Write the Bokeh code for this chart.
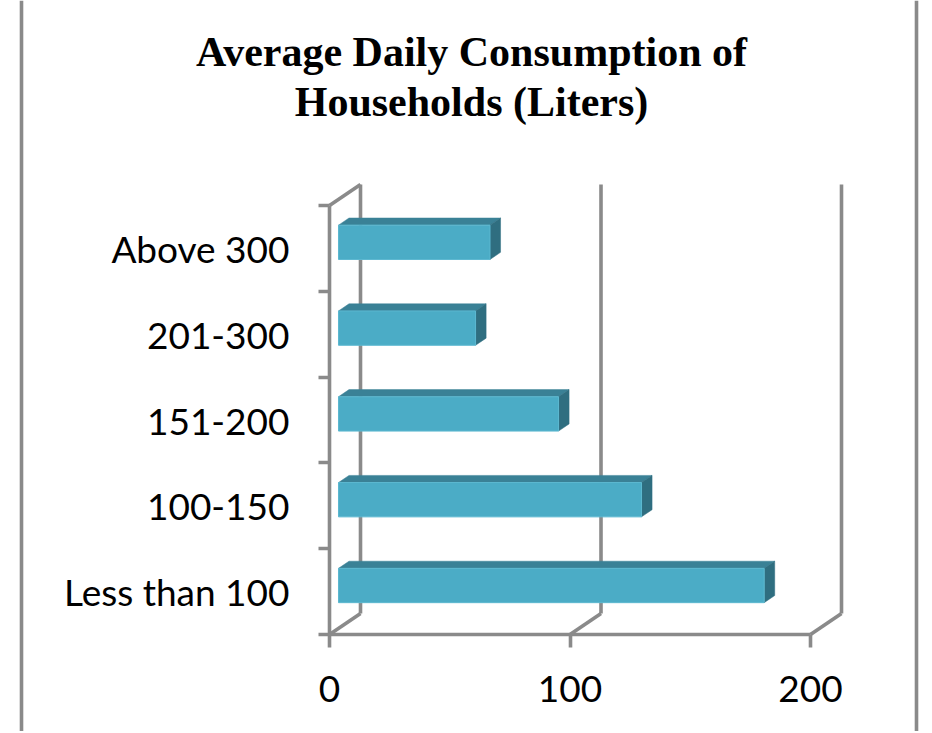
from bokeh.plotting import figure
from bokeh.models import Range1d, LinearAxis, FixedTicker, Label, Span
from bokeh.embed import file_html
from bokeh.resources import INLINE

# ---- data ----
categories = ["Less than 100", "100-150", "151-200", "201-300", "Above 300"]
values = [177, 126, 91.5, 57, 63]
x_ticks = [0, 100, 200]
title_lines = ["Average Daily Consumption of", "Households (Liters)"]

# ---- geometry (page pixels -> data units) ----
W, H = 930, 731
PAGE_OFF = 0
X0_PAGE, PX_PER_VAL = 329, 2.405      # value 0 at front, px per unit value
YF_PAGE, PX_PER_CAT = 634, 85.8       # front floor, px per category band

def xv(page_x):
    return (page_x - X0_PAGE) / PX_PER_VAL

def yv(page_y):
    return 0.5 + (YF_PAGE - page_y) / PX_PER_CAT

DX = 31 / PX_PER_VAL      # full depth offset in value units
DY = 21 / PX_PER_CAT      # full depth offset in category units
A, B = 0.29, 0.63         # bar depth fractions
HALF = 0.2                # half bar height (category units)

GRAY = "#8a8a8a"
LW = 3.6
FRONT = "#4bacc6"
TOP = "#3a8196"
SIDE = "#2f6e80"

p = figure(width=W, height=H, output_backend="svg", toolbar_location=None,
           x_range=Range1d(xv(PAGE_OFF), xv(PAGE_OFF + W)),
           y_range=Range1d(yv(PAGE_OFF + H), yv(PAGE_OFF)),
           x_axis_location=None, y_axis_location=None, min_border=0)
p.outline_line_color = None
p.background_fill_color = "white"
p.border_fill_color = "white"
p.grid.visible = False

n = len(categories)
xmax = x_ticks[-1]

# chart border lines
for px in (21, 916):
    p.add_layout(Span(location=xv(px), dimension="height",
                      line_color=GRAY, line_width=LW))

# back wall gridlines
p.segment(x0=[t + DX for t in x_ticks], y0=[0.5 + DY] * len(x_ticks),
          x1=[t + DX for t in x_ticks], y1=[n + 0.5 + DY] * len(x_ticks),
          line_color=GRAY, line_width=LW)
# floor diagonals
p.segment(x0=x_ticks, y0=[0.5] * len(x_ticks),
          x1=[t + DX for t in x_ticks], y1=[0.5 + DY] * len(x_ticks),
          line_color=GRAY, line_width=LW)
# left wall top diagonal
p.segment(x0=[0], y0=[n + 0.5], x1=[DX], y1=[n + 0.5 + DY],
          line_color=GRAY, line_width=LW)

# bars
centers = [i + 1 for i in range(n)]
left = [A * DX] * n
right = [v + A * DX for v in values]
bottom = [c - HALF + A * DY for c in centers]
top = [c + HALF + A * DY for c in centers]
ddx, ddy = (B - A) * DX, (B - A) * DY

top_xs = [[l, r, r + ddx, l + ddx] for l, r in zip(left, right)]
top_ys = [[t, t, t + ddy, t + ddy] for t in top]
side_xs = [[r, r, r + ddx, r + ddx] for r in right]
side_ys = [[b, t, t + ddy, b + ddy] for b, t in zip(bottom, top)]

p.patches(xs=top_xs, ys=top_ys, fill_color=TOP, line_color=TOP, line_width=0.5)
p.patches(xs=side_xs, ys=side_ys, fill_color=SIDE, line_color=SIDE, line_width=0.5)
p.quad(left=left, right=right, bottom=bottom, top=top,
       fill_color=FRONT, line_color="#5cb8d0", line_width=1)

# axes
FONT = "Lato"
xaxis = LinearAxis(fixed_location=0.5, bounds=(0, xmax),
                   ticker=FixedTicker(ticks=x_ticks, minor_ticks=[]))
xaxis.axis_line_color = GRAY
xaxis.axis_line_width = LW
xaxis.major_tick_line_color = GRAY
xaxis.major_tick_line_width = LW
xaxis.major_tick_out = 13
xaxis.major_tick_in = 0
xaxis.minor_tick_line_color = None
xaxis.major_label_text_font = FONT
xaxis.major_label_text_font_size = "37px"
xaxis.major_label_text_color = "black"
xaxis.major_label_standoff = 28
p.add_layout(xaxis, "below")

yaxis = LinearAxis(fixed_location=0, bounds=(0.5, n + 0.5),
                   ticker=FixedTicker(ticks=centers,
                                      minor_ticks=[i + 0.5 for i in range(n + 1)]))
yaxis.axis_line_color = GRAY
yaxis.axis_line_width = LW
yaxis.major_tick_line_color = None
yaxis.major_tick_out = 0
yaxis.major_tick_in = 0
yaxis.minor_tick_line_color = GRAY
yaxis.minor_tick_line_width = LW
yaxis.minor_tick_out = 11
yaxis.minor_tick_in = 0
yaxis.major_label_overrides = {c: cat for c, cat in zip(centers, categories)}
yaxis.major_label_text_font = FONT
yaxis.major_label_text_font_size = "37px"
yaxis.major_label_text_color = "black"
yaxis.major_label_standoff = 29
p.add_layout(yaxis, "left")

# title
for line, py in zip(title_lines, (51, 101)):
    p.add_layout(Label(x=xv(471), y=yv(py), text=line,
                       text_font="Liberation Serif", text_font_style="bold",
                       text_font_size="42px", text_align="center",
                       text_baseline="alphabetic", text_color="black"))

open("out.html", "w").write(file_html(p, INLINE))
